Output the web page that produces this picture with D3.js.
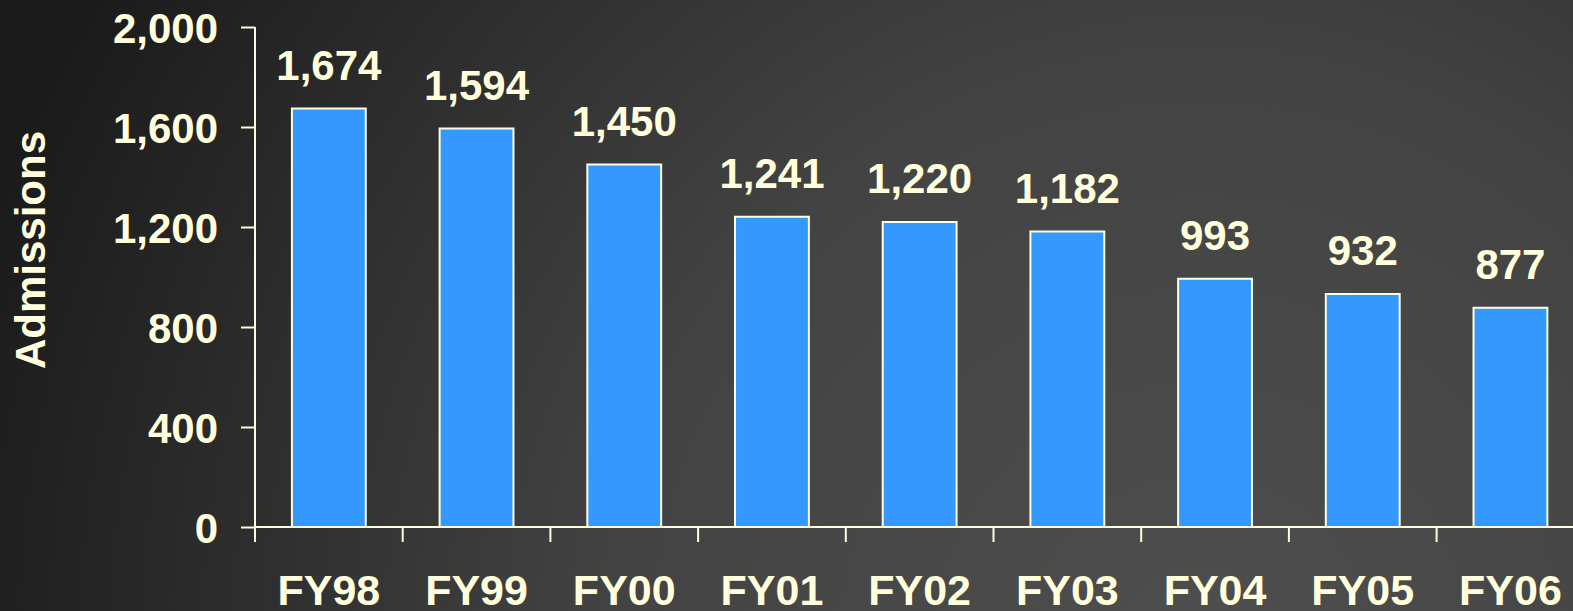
<!DOCTYPE html>
<html>
<head>
<meta charset="utf-8">
<script src="https://cdn.jsdelivr.net/npm/d3@7"></script>
<style>
  html, body { margin: 0; padding: 0; overflow: hidden; }
  body { width: 1573px; height: 611px; }
  text { font-family: "Liberation Sans", Arial, sans-serif; font-weight: bold; fill: #ffffdd; }
</style>
</head>
<body>
<div id="chart"></div>
<script>
// data
var years = ["FY98", "FY99", "FY00", "FY01", "FY02", "FY03", "FY04", "FY05", "FY06"];
var admissions = [1674, 1594, 1450, 1241, 1220, 1182, 993, 932, 877];
var yTicks = [0, 400, 800, 1200, 1600, 2000];

var W = 1573, H = 611;
var margin = {top: 27, left: 255, bottom: 84};
var step = 147.7;
var cream = "#ffffdd";

var svg = d3.select("#chart").append("svg")
    .attr("width", W)
    .attr("height", H);

// background gradient, dark top-left to grey bottom-right
var defs = svg.append("defs");
var grad = defs.append("radialGradient")
    .attr("id", "bg")
    .attr("gradientUnits", "userSpaceOnUse")
    .attr("cx", 1200).attr("cy", 650).attr("r", 1300);
grad.append("stop").attr("offset", "0%").attr("stop-color", "#4e4e4e");
grad.append("stop").attr("offset", "45%").attr("stop-color", "#434343");
grad.append("stop").attr("offset", "100%").attr("stop-color", "#1a1a1a");

svg.append("rect")
    .attr("width", W).attr("height", H)
    .attr("fill", "url(#bg)");

var g = svg.append("g")
    .attr("transform", "translate(" + margin.left + "," + margin.top + ")");

var height = H - margin.top - margin.bottom;

var x = d3.scaleBand()
    .domain(years)
    .range([0, step * years.length])
    .paddingInner(0.5)
    .paddingOuter(0.25);

var y = d3.scaleLinear()
    .domain([0, 2000])
    .range([height, 0]);

// y axis
var yAxis = g.append("g")
    .call(d3.axisLeft(y).tickValues(yTicks).tickFormat(d3.format(",")).tickSize(14).tickPadding(23));
yAxis.select(".domain").attr("stroke", cream).attr("stroke-width", 2)
    .attr("d", "M0," + y(2000) + "V" + y(0));
yAxis.selectAll(".tick line").attr("stroke", cream).attr("stroke-width", 2);
yAxis.selectAll(".tick text")
    .attr("fill", cream)
    .style("font-size", "42px")
    .attr("dy", "0.36em");

// bars
g.selectAll(".bar")
    .data(admissions)
    .enter().append("rect")
    .attr("class", "bar")
    .attr("x", function(d, i) { return x(years[i]); })
    .attr("width", x.bandwidth())
    .attr("y", function(d) { return y(d); })
    .attr("height", function(d) { return height - y(d); })
    .attr("fill", "#3399ff")
    .attr("stroke", cream)
    .attr("stroke-width", 2);

// x axis line with ticks between categories
var xAxis = g.append("g").attr("transform", "translate(0," + height + ")");
xAxis.append("line")
    .attr("x1", 0).attr("x2", W)
    .attr("stroke", cream).attr("stroke-width", 2);
xAxis.selectAll(".xtick")
    .data(d3.range(years.length + 1))
    .enter().append("line")
    .attr("class", "xtick")
    .attr("x1", function(i) { return i * step; })
    .attr("x2", function(i) { return i * step; })
    .attr("y1", 0).attr("y2", 15)
    .attr("stroke", cream).attr("stroke-width", 2);
xAxis.selectAll(".xlabel")
    .data(years)
    .enter().append("text")
    .attr("class", "xlabel")
    .attr("x", function(d) { return x(d) + x.bandwidth() / 2; })
    .attr("y", 78)
    .attr("text-anchor", "middle")
    .style("font-size", "43px")
    .text(function(d) { return d; });

// value labels
g.selectAll(".val")
    .data(admissions)
    .enter().append("text")
    .attr("class", "val")
    .attr("x", function(d, i) { return x(years[i]) + x.bandwidth() / 2; })
    .attr("y", function(d) { return y(d) - 29; })
    .attr("text-anchor", "middle")
    .style("font-size", "42px")
    .text(function(d) { return d3.format(",")(d); });

// y axis title
svg.append("text")
    .attr("transform", "translate(45,250) rotate(-90)")
    .attr("text-anchor", "middle")
    .style("font-size", "42px")
    .text("Admissions");
</script>
</body>
</html>
